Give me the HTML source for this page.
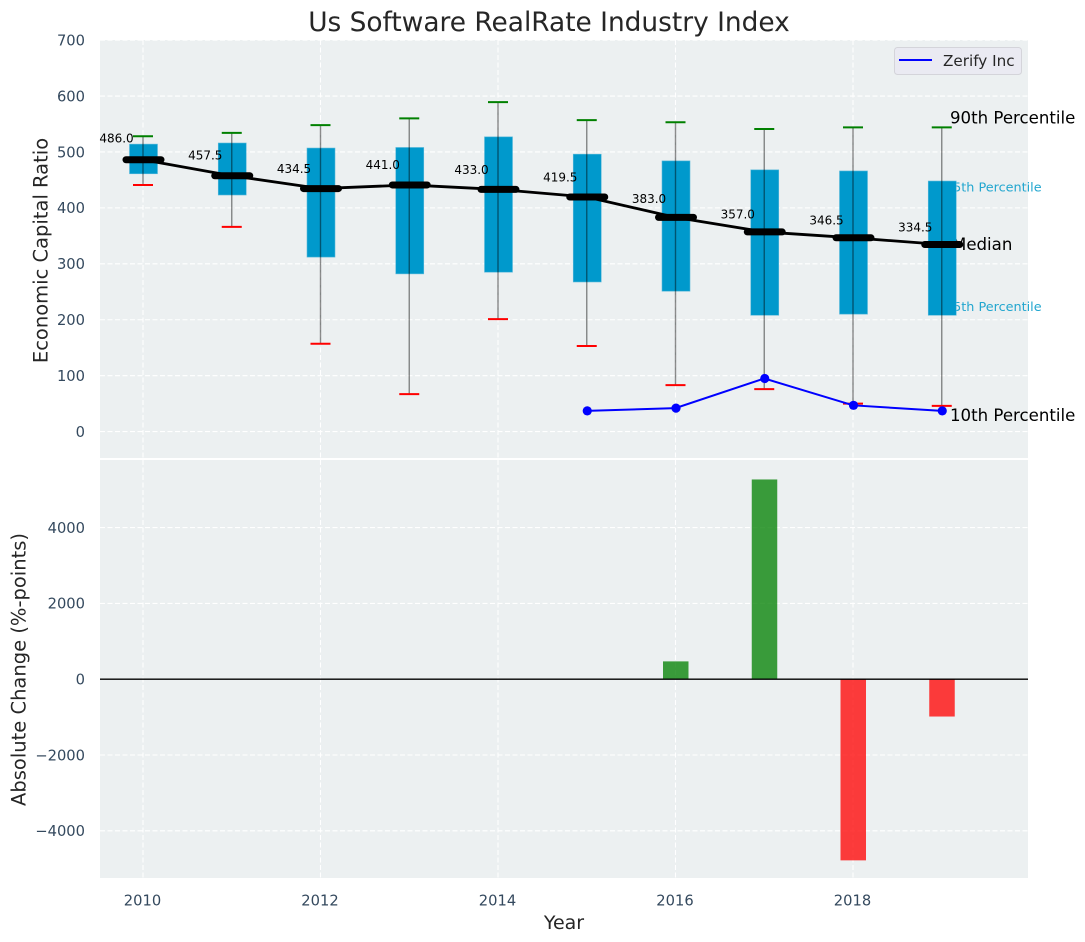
<!DOCTYPE html>
<html>
<head>
<meta charset="utf-8">
<title>Us Software RealRate Industry Index</title>
<style>
html,body{margin:0;padding:0;background:#fff;}
svg{display:block;}
text{font-family:"DejaVu Sans","Liberation Sans",sans-serif;}
</style>
</head>
<body>
<svg id="chart" xmlns="http://www.w3.org/2000/svg" width="1085" height="942" viewBox="0 0 1085 942">
  <rect x="0" y="0" width="1085" height="942" fill="#ffffff"/>
  <rect x="100" y="40" width="928" height="418" fill="#ecf0f1"/>
  <rect x="100" y="460" width="928" height="418" fill="#ecf0f1"/>
  <g id="grid"></g>
  <g id="notes"></g>
  <g id="boxes"></g>
  <g id="medians"></g>
  <g id="company"></g>
  <g id="bars"></g>
  <line x1="100" x2="1028" y1="679.2" y2="679.2" stroke="#000" stroke-width="1.3"/>
  <g id="ticks"></g>
  <text x="549" y="31" text-anchor="middle" font-size="26.4" fill="#262626">Us Software RealRate Industry Index</text>
  <text transform="translate(47.5,250.5) rotate(-90)" text-anchor="middle" font-size="19.5" fill="#262626">Economic Capital Ratio</text>
  <text transform="translate(25.5,669.5) rotate(-90)" text-anchor="middle" font-size="19.5" fill="#262626">Absolute Change (%-points)</text>
  <text x="564" y="929" text-anchor="middle" font-size="19" fill="#262626">Year</text>
  <g>
    <rect x="894.5" y="47.5" width="127" height="27" rx="3" fill="#eaeaf2" stroke="#d4d4da" stroke-width="1"/>
    <line x1="899" x2="932" y1="60" y2="60" stroke="#0000ff" stroke-width="2"/>
    <text x="943" y="66" font-size="15.2" fill="#262626">Zerify Inc</text>
  </g>
</svg>
<script>
var years = [2010, 2011, 2012, 2013, 2014, 2015, 2016, 2017, 2018, 2019];
var p90 = [528, 534, 548, 560, 589, 557, 553, 541, 544, 544];
var p75 = [514, 516, 507, 508, 527, 496, 484, 468, 466, 448];
var median = [486, 457.5, 434.5, 441, 433, 419.5, 383, 357, 346.5, 334.5];
var p25 = [461, 423, 312, 282, 285, 267.5, 251, 208, 210, 208];
var p10 = [441, 366, 157, 67, 201, 153, 83, 76, 50, 46];
var companyYears = [2015, 2016, 2017, 2018, 2019];
var companyValues = [37, 42, 95, 47, 37];
var changeYears = [2016, 2017, 2018, 2019];
var changeValues = [470, 5270, -4780, -985];
var xTicks = [2010, 2012, 2014, 2016, 2018];
var topTicks = [0, 100, 200, 300, 400, 500, 600, 700];
var bottomTicks = [-4000, -2000, 0, 2000, 4000];
var noteLabels = ['90th Percentile', '75th Percentile', 'Median', '25th Percentile', '10th Percentile'];
var noteValues = [562, 437, 335, 224, 30];

var NS = 'http://www.w3.org/2000/svg';
function x(year) { return 143 + (year - 2010) * 88.75; }
function yTop(v) { return 431.6 - v * 0.5593; }
function yBot(v) { return 679.2 - v * 0.0379; }
function mk(tag, attrs, parent, txt) {
  var el = document.createElementNS(NS, tag);
  for (var k in attrs) { el.setAttribute(k, attrs[k]); }
  if (txt !== undefined) { el.textContent = txt; }
  parent.appendChild(el);
  return el;
}
var gGrid = document.getElementById('grid');
var gNotes = document.getElementById('notes');
var gBoxes = document.getElementById('boxes');
var gMedians = document.getElementById('medians');
var gCompany = document.getElementById('company');
var gBars = document.getElementById('bars');
var gTicks = document.getElementById('ticks');
var TICK = '#34495e';
var DASH = '5 2.5';
var el;

xTicks.forEach(function (t) {
  var px = x(t);
  el = mk('line', {x1: px, x2: px, y1: 40, y2: 458, stroke: '#fff', 'stroke-width': 1.1, 'stroke-dasharray': DASH}, gGrid);
  
  
  el = mk('line', {x1: px, x2: px, y1: 460, y2: 878, stroke: '#fff', 'stroke-width': 1.1, 'stroke-dasharray': DASH}, gGrid);
  
  
  el = mk('text', {x: px - 0.5, y: 905.5, 'text-anchor': 'middle', 'font-size': 14.7, fill: TICK}, gTicks, String(t));
  
  
});
topTicks.forEach(function (t) {
  var py = yTop(t);
  el = mk('line', {x1: 100, x2: 1028, y1: py, y2: py, stroke: '#fff', 'stroke-width': 1.1, 'stroke-dasharray': DASH}, gGrid);
  
  
  el = mk('text', {x: 85, y: py + 5.3, 'text-anchor': 'end', 'font-size': 14.7, fill: TICK}, gTicks, String(t));
  
  
});
bottomTicks.forEach(function (t) {
  var py = yBot(t);
  el = mk('line', {x1: 100, x2: 1028, y1: py, y2: py, stroke: '#fff', 'stroke-width': 1.1, 'stroke-dasharray': DASH}, gGrid);
  
  
  el = mk('text', {x: 85, y: py + 5.3, 'text-anchor': 'end', 'font-size': 14.7, fill: TICK}, gTicks, String(t).replace('-', '\u2212'));
  
  
});

noteLabels.forEach(function (label, i) {
  var small = i === 1 || i === 3;
  var startX = small ? 945 : (i === 2 ? 952 : 950);
  el = mk('text', {x: startX, y: yTop(noteValues[i]) + (small ? 4.5 : 6), 'font-size': small ? 12.8 : 16.6, fill: small ? '#22a6cf' : '#000'}, gNotes, label);
  
  
});

years.forEach(function (yr, i) {
  var cx = x(yr);
  el = mk('rect', {x: cx - 13.5, y: yTop(p75[i]), width: 28, height: yTop(p25[i]) - yTop(p75[i]), fill: '#0099cc', stroke: '#5ab9da', 'stroke-width': 0.6}, gBoxes);
  
  
  el = mk('line', {x1: cx, x2: cx, y1: yTop(p90[i]), y2: yTop(p10[i]), stroke: '#000', 'stroke-opacity': 0.45, 'stroke-width': 1.4}, gBoxes);
  
  
  el = mk('line', {x1: cx - 10, x2: cx + 10, y1: yTop(p90[i]), y2: yTop(p90[i]), stroke: '#008000', 'stroke-width': 2}, gBoxes);
  
  
  el = mk('line', {x1: cx - 10, x2: cx + 10, y1: yTop(p10[i]), y2: yTop(p10[i]), stroke: '#ff0000', 'stroke-width': 2}, gBoxes);
  
  
});

el = mk('polyline', {points: years.map(function (yr, i) { return x(yr) + ',' + yTop(median[i]); }).join(' '), fill: 'none', stroke: '#000', 'stroke-width': 2.8}, gMedians);


years.forEach(function (yr, i) {
  var cx = x(yr) + 0.5, cy = yTop(median[i]);
  el = mk('line', {x1: cx - 17.5, x2: cx + 17.5, y1: cy, y2: cy, stroke: '#000', 'stroke-width': 7, 'stroke-linecap': 'round'}, gMedians);
  
  
  el = mk('text', {x: cx - 27, y: yTop(median[i] * 1.05) - 3.5, 'text-anchor': 'middle', 'font-size': 12, fill: '#000'}, gMedians, median[i].toFixed(1));
  
  
});

el = mk('polyline', {points: companyYears.map(function (yr, i) { return x(yr) + ',' + yTop(companyValues[i]); }).join(' '), fill: 'none', stroke: '#0000ff', 'stroke-width': 2}, gCompany);


companyYears.forEach(function (yr, i) {
  el = mk('circle', {cx: x(yr) + 0.5, cy: yTop(companyValues[i]), r: 4.6, fill: '#0000ff'}, gCompany);
  
  
});

changeYears.forEach(function (yr, i) {
  var v = changeValues[i];
  var top = Math.min(yBot(v), yBot(0));
  el = mk('rect', {x: x(yr) - 12.5, y: top, width: 25.5, height: Math.abs(yBot(v) - yBot(0)), fill: v >= 0 ? '#008000' : '#ff0000', 'fill-opacity': 0.76}, gBars);
  
  
});
</script>
</body>
</html>
